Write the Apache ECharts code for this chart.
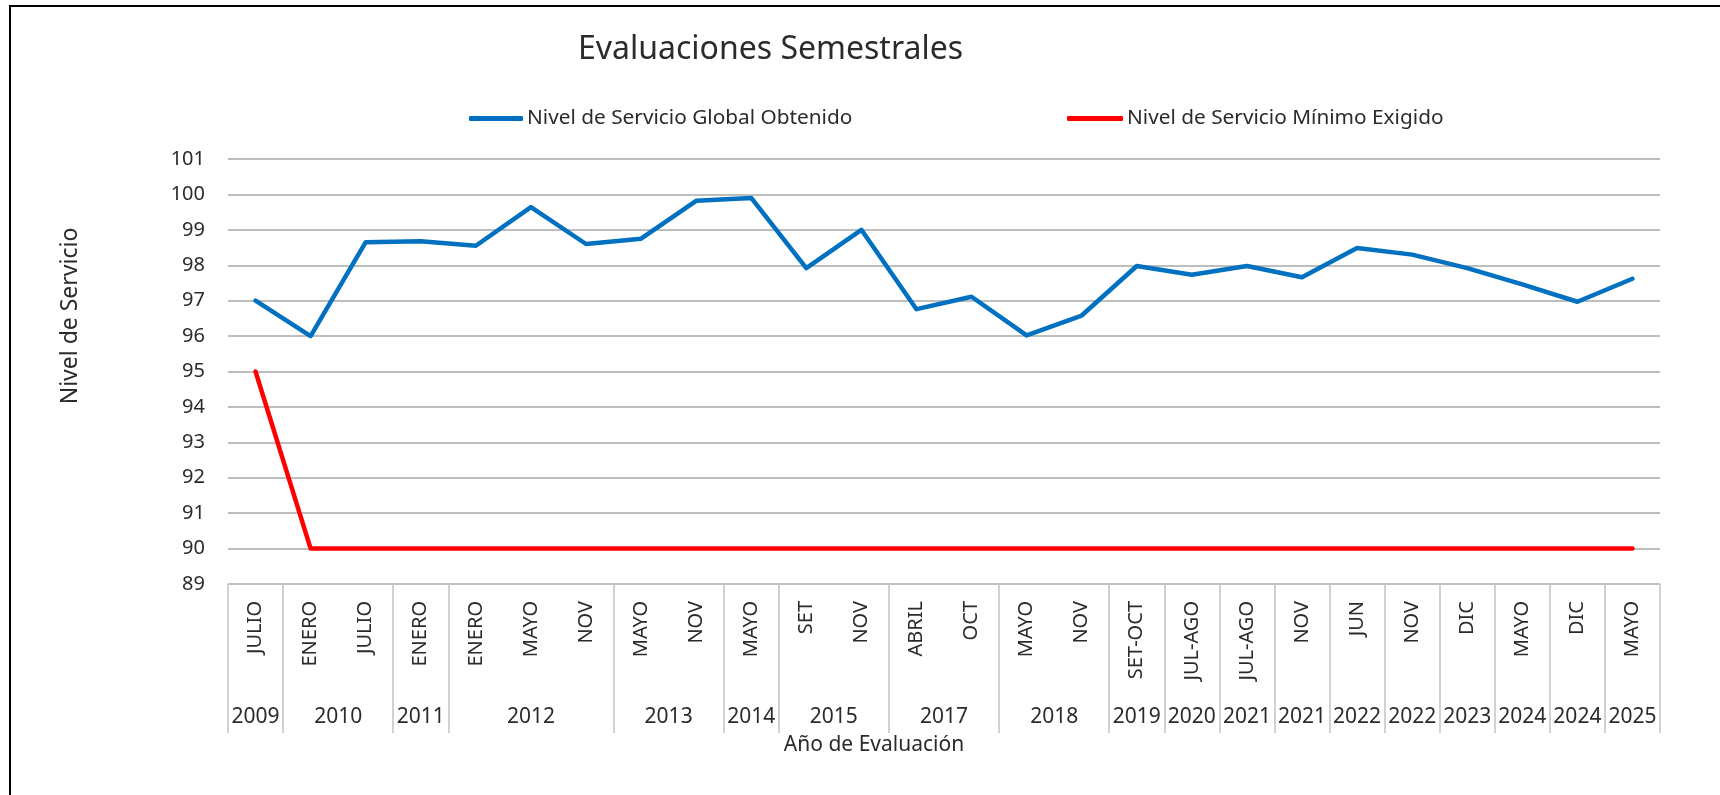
<!DOCTYPE html>
<html>
<head>
<meta charset="utf-8">
<script src="https://cdn.jsdelivr.net/npm/echarts@6/dist/echarts.min.js"></script>
<style>
  html, body { margin: 0; padding: 0; background: #fff; }
  #chart { width: 1720px; height: 795px; }
</style>
</head>
<body>
<div id="chart"></div>
<script>
// categorias (mes de evaluacion) y grupos de año
var meses = ['JULIO', 'ENERO', 'JULIO', 'ENERO', 'ENERO', 'MAYO', 'NOV', 'MAYO', 'NOV', 'MAYO', 'SET', 'NOV', 'ABRIL', 'OCT', 'MAYO', 'NOV', 'SET-OCT', 'JUL-AGO', 'JUL-AGO', 'NOV', 'JUN', 'NOV', 'DIC', 'MAYO', 'DIC', 'MAYO']
var anios = ['2009', '2010', '2011', '2012', '2013', '2014', '2015', '2017', '2018', '2019', '2020', '2021', '2021', '2022', '2022', '2023', '2024', '2024', '2025']
var aniosTamano = [1, 2, 1, 3, 2, 1, 2, 2, 2, 1, 1, 1, 1, 1, 1, 1, 1, 1, 1]
var nivelObtenido = [97.0, 96.0, 98.65, 98.68, 98.55, 99.64, 98.6, 98.75, 99.82, 99.9, 97.92, 99.0, 96.76, 97.11, 96.02, 96.58, 97.98, 97.73, 97.98, 97.66, 98.49, 98.3, 97.92, 97.46, 96.97, 97.62]
var nivelMinimo = [95, 90, 90, 90, 90, 90, 90, 90, 90, 90, 90, 90, 90, 90, 90, 90, 90, 90, 90, 90, 90, 90, 90, 90, 90, 90]
var yTicks = { min: 89, max: 101, interval: 1 }

// limites y centros de cada grupo de año (en unidades de categoria)
var limites = [0]
var centros = []
aniosTamano.forEach(function (n, i) {
  var ini = limites[i]
  limites.push(ini + n)
  centros.push(ini + n / 2)
})

var fuente = 'Noto Sans'
var textoColor = '#2b2b2b'

var chart = echarts.init(document.getElementById('chart'))
chart.setOption({
  animation: false,
  textStyle: { fontFamily: fuente },
  title: {
    text: 'Evaluaciones Semestrales',
    left: 573,
    top: 29,
    textStyle: { fontFamily: fuente, fontSize: 32, fontWeight: 'normal', color: textoColor }
  },
  legend: [{
    data: ['Nivel de Servicio Global Obtenido'],
    left: 464,
    top: 103,
    icon: 'roundRect',
    itemWidth: 54,
    itemHeight: 5,
    textStyle: { fontFamily: fuente, fontSize: 20.8, color: textoColor, padding: [0, 0, 0, -1] }
  }, {
    data: ['Nivel de Servicio Mínimo Exigido'],
    left: 1062,
    top: 103,
    icon: 'roundRect',
    itemWidth: 56,
    itemHeight: 5,
    textStyle: { fontFamily: fuente, fontSize: 20.8, color: textoColor, padding: [0, 0, 0, -1] }
  }],
  grid: {
    left: 228,
    right: 60,
    top: 159,
    bottom: 211
  },
  xAxis: [{
    type: 'category',
    data: meses,
    boundaryGap: true,
    axisLine: { lineStyle: { color: '#c4c4c4', width: 1.5 } },
    axisTick: { show: false },
    axisLabel: {
      rotate: 90,
      interval: 0,
      margin: 17,
      fontFamily: fuente,
      fontSize: 20,
      color: textoColor
    },
    splitLine: { show: false }
  }, {
    type: 'value',
    position: 'bottom',
    min: 0,
    max: meses.length,
    axisLine: { show: false },
    splitLine: { show: false },
    axisTick: {
      show: true,
      customValues: limites,
      length: 149,
      lineStyle: { color: '#c4c4c4', width: 1.5 }
    },
    axisLabel: {
      customValues: centros,
      margin: 123,
      fontFamily: fuente,
      fontSize: 21,
      color: textoColor,
      formatter: function (v) {
        var i = centros.indexOf(v)
        return i >= 0 ? anios[i] : ''
      }
    }
  }],
  yAxis: {
    type: 'value',
    min: yTicks.min,
    max: yTicks.max,
    interval: yTicks.interval,
    axisLine: { show: false },
    axisTick: { show: false },
    axisLabel: { margin: 23, fontFamily: fuente, fontSize: 20, color: textoColor },
    splitLine: { lineStyle: { color: '#a9a9a9', width: 1.7 } }
  },
  graphic: [{
    type: 'rect',
    shape: { x: 10, y: 6, width: 1800, height: 900 },
    style: { fill: 'none', stroke: '#000', lineWidth: 2 },
    silent: true
  }, {
    type: 'text',
    x: 70,
    y: 316,
    rotation: Math.PI / 2,
    style: {
      text: 'Nivel de Servicio',
      fontFamily: fuente,
      fontSize: 23,
      fill: textoColor,
      align: 'center',
      verticalAlign: 'middle'
    }
  }, {
    type: 'text',
    x: 874,
    y: 745,
    style: {
      text: 'Año de Evaluación',
      fontFamily: fuente,
      fontSize: 21,
      fill: textoColor,
      align: 'center',
      verticalAlign: 'middle'
    }
  }],
  series: [{
    name: 'Nivel de Servicio Global Obtenido',
    type: 'line',
    data: nivelObtenido,
    symbol: 'none',
    lineStyle: { color: '#0070C0', width: 4.5, cap: 'round', join: 'round' },
    itemStyle: { color: '#0070C0' }
  }, {
    name: 'Nivel de Servicio Mínimo Exigido',
    type: 'line',
    data: nivelMinimo,
    symbol: 'none',
    lineStyle: { color: '#FF0000', width: 4.5, cap: 'round', join: 'round' },
    itemStyle: { color: '#FF0000' }
  }]
})
</script>
</body>
</html>
